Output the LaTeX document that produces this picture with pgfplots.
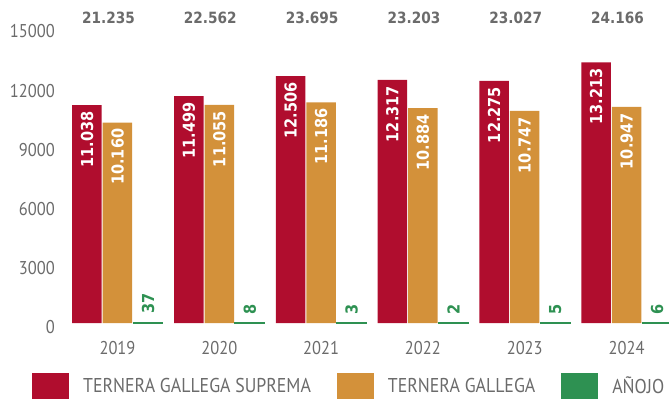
\documentclass[border=0pt]{standalone}
\usepackage{fontspec}
\usepackage{pgfplots}
\pgfplotsset{compat=1.18}
\setmainfont{PT Sans}
\newfontfamily\ptn[FakeStretch=0.89]{PT Sans}
\newfontfamily\valf[FakeStretch=0.88]{DejaVu Sans}
\definecolor{cred}{HTML}{B00D2E}
\definecolor{corange}{HTML}{D3913A}
\definecolor{cgreen}{HTML}{2E9152}
\definecolor{tgray}{HTML}{6B6B6B}
\begin{document}
\begin{tikzpicture}
\begin{axis}[
  at={(0,0)}, anchor=south west,
  scale only axis, width=607.5bp, height=296bp,
  xmin=-0.55, xmax=5.417, ymin=0, ymax=15000,
  clip=false,
  axis line style={draw=none}, tick style={draw=none},
  ybar, bar width=29.5bp,
  xtick={0,1,2,3,4,5}, xticklabels={2019,2020,2021,2022,2023,2024},
  ytick={0,3000,6000,9000,12000,15000},
  scaled ticks=false,
  /pgf/number format/1000 sep={},
  /pgf/number format/assume math mode=true,
  ticklabel style={font=\ptn\fontsize{18.5bp}{20bp}\selectfont, text=tgray, inner sep=0pt},
  yticklabel style={xshift=-6.5bp, yshift=-4.5bp},
  xticklabel style={yshift=-14bp},
  point meta=explicit symbolic,
  legend columns=3,
  legend image code/.code={\fill[#1,draw=none] (0bp,-13bp) rectangle (37bp,13bp);},
  legend style={at={(-0.0486,-0.2128)}, anchor=west, draw=none, fill=none, inner sep=0pt,
    font=\ptn\fontsize{20bp}{22bp}\selectfont, text=tgray,
    nodes={inner sep=0pt},
    /tikz/every odd column/.append style={column sep=14bp},
    /tikz/every even column/.append style={column sep=26bp}},
  legend cell align=left,
]
\addplot[fill=cred, draw=none, bar shift=-30.5bp,
  nodes near coords, nodes near coords align={anchor=east},
  every node near coord/.append style={rotate=90, anchor=east, inner xsep=6bp, inner ysep=0pt,
    text=white, font=\valf\bfseries\fontsize{16.5bp}{18bp}\selectfont}]
  coordinates {(0,11038) [11.038] (1,11499) [11.499] (2,12506) [12.506]
               (3,12317) [12.317] (4,12275) [12.275] (5,13213) [13.213]};
\addlegendentry{TERNERA GALLEGA SUPREMA}
\addplot[fill=corange, draw=none, bar shift=0bp,
  nodes near coords, nodes near coords align={anchor=east},
  every node near coord/.append style={rotate=90, anchor=east, inner xsep=6bp, inner ysep=0pt,
    text=white, font=\valf\bfseries\fontsize{16.5bp}{18bp}\selectfont}]
  coordinates {(0,10160) [10.160] (1,11055) [11.055] (2,11186) [11.186]
               (3,10884) [10.884] (4,10747) [10.747] (5,10947) [10.947]};
\addlegendentry{TERNERA GALLEGA}
\addplot[fill=cgreen, draw=cgreen, line width=1.2bp, bar shift=30.5bp,
  nodes near coords, nodes near coords align={anchor=west},
  every node near coord/.append style={rotate=90, anchor=west, inner xsep=8bp, inner ysep=0pt,
    text=cgreen, font=\valf\bfseries\fontsize{16.5bp}{18bp}\selectfont}]
  coordinates {(0,37) [37] (1,8) [8] (2,3) [3] (3,2) [2] (4,5) [5] (5,6) [6]};
\addlegendentry{AÑOJO}
\begin{scope}[every node/.style={font=\valf\bfseries\fontsize{15.5bp}{17bp}\selectfont, text=tgray, xshift=-9bp}]
\node at (axis cs:0,15480) {21.235};
\node at (axis cs:1,15480) {22.562};
\node at (axis cs:2,15480) {23.695};
\node at (axis cs:3,15480) {23.203};
\node at (axis cs:4,15480) {23.027};
\node at (axis cs:5,15480) {24.166};
\end{scope}
\end{axis}
\pgfresetboundingbox
\path[use as bounding box] (-61.5bp,-77bp) rectangle (607.5bp,323bp);
\end{tikzpicture}
\end{document}
